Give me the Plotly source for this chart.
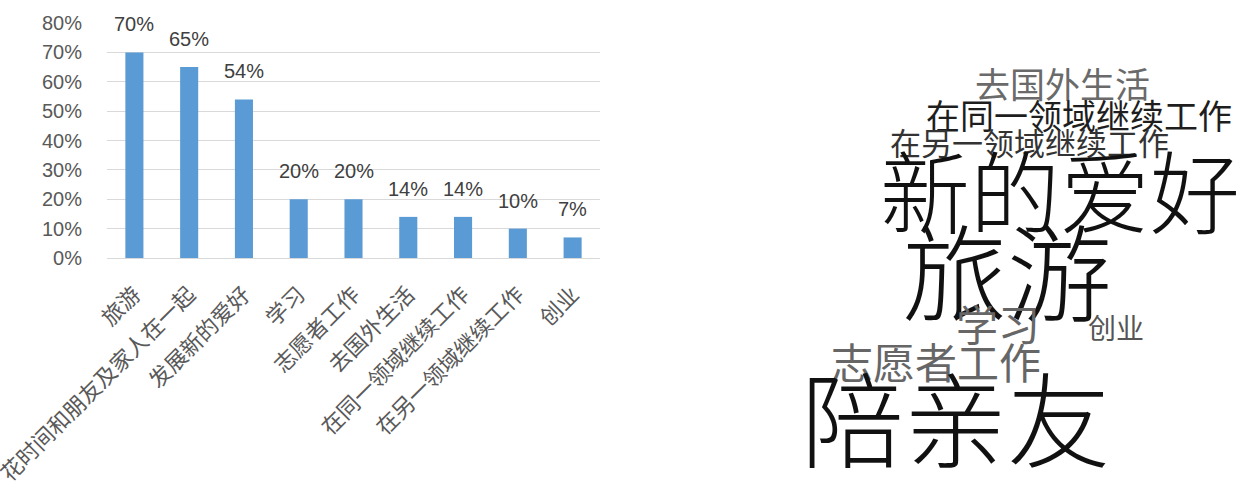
import plotly.graph_objects as go

# Survey: what people plan to do (share of respondents)
categories = ["旅游", "花时间和朋友及家人在一起", "发展新的爱好", "学习", "志愿者工作",
              "去国外生活", "在同一领域继续工作", "在另一领域继续工作", "创业"]
shares = [0.70, 0.65, 0.54, 0.20, 0.20, 0.14, 0.14, 0.10, 0.07]
y_ticks = [0, 0.1, 0.2, 0.3, 0.4, 0.5, 0.6, 0.7, 0.8]

# Word cloud terms
cloud_words = ["去国外生活", "在同一领域继续工作", "在另一领域继续工作", "新的爱好",
               "旅游", "学习", "创业", "志愿者工作", "陪亲友"]

W, H = 1242, 502

# placement of each cloud term: centre (px), font size, colour, weight
cloud_style = {
    "去国外生活": (1062, 83, 35, "#6a6a6a", 400),
    "在同一领域继续工作": (1079, 114, 34, "#1e1e1e", 400),
    "在另一领域继续工作": (1029, 142, 31, "#333333", 400),
    "新的爱好": (1060, 188, 90, "#111111", 300),
    "旅游": (1007, 267, 105, "#111111", 300),
    "学习": (998, 322, 42, "#666666", 400),
    "创业": (1116, 327, 28, "#555555", 400),
    "志愿者工作": (936, 360, 42, "#666666", 400),
    "陪亲友": (955, 415, 103, "#111111", 300),
}

LAT = "Liberation Sans"
CJK = "Noto Sans CJK SC"

fig = go.Figure()
fig.add_trace(go.Bar(
    x=categories, y=shares, width=0.33,
    marker=dict(color="#5b9bd5", line=dict(width=0)),
    hoverinfo="skip",
))

# value labels above each bar
for c, v in zip(categories, shares):
    fig.add_annotation(
        x=c, y=v, xref="x", yref="y", text=f"{round(v * 100)}%",
        showarrow=False, yanchor="bottom", yshift=15,
        font=dict(family=LAT, size=20, color="#404040"),
    )

for w in cloud_words:
    cx, cy, fs, col, wt = cloud_style[w]
    fig.add_annotation(
        x=cx / W, y=1 - cy / H, xref="paper", yref="paper", text=w,
        showarrow=False, xanchor="center", yanchor="middle",
        font=dict(family=CJK, size=fs, color=col, weight=wt),
    )

fig.update_layout(
    width=W, height=H,
    margin=dict(l=0, r=0, t=0, b=0),
    paper_bgcolor="white", plot_bgcolor="white",
    showlegend=False,
    xaxis=dict(
        domain=[107 / W, 600 / W],
        tickangle=-45, ticks="", showgrid=False,
        showline=True, linecolor="#d9d9d9", linewidth=1,
        tickfont=dict(family=CJK, size=22, color="#595959"),
        ticklabelstandoff=14,
        automargin=False, fixedrange=True,
    ),
    yaxis=dict(
        domain=[1 - 258 / H, 1 - 23 / H],
        range=[0, 0.8], tickvals=y_ticks, tickformat=".0%",
        showgrid=True, gridcolor="#d9d9d9", gridwidth=1,
        zeroline=False, showline=False, ticks="",
        tickfont=dict(family=LAT, size=20, color="#595959"),
        ticklabelstandoff=24,
        automargin=False, fixedrange=True,
    ),
)

fig.write_html("out.html")
